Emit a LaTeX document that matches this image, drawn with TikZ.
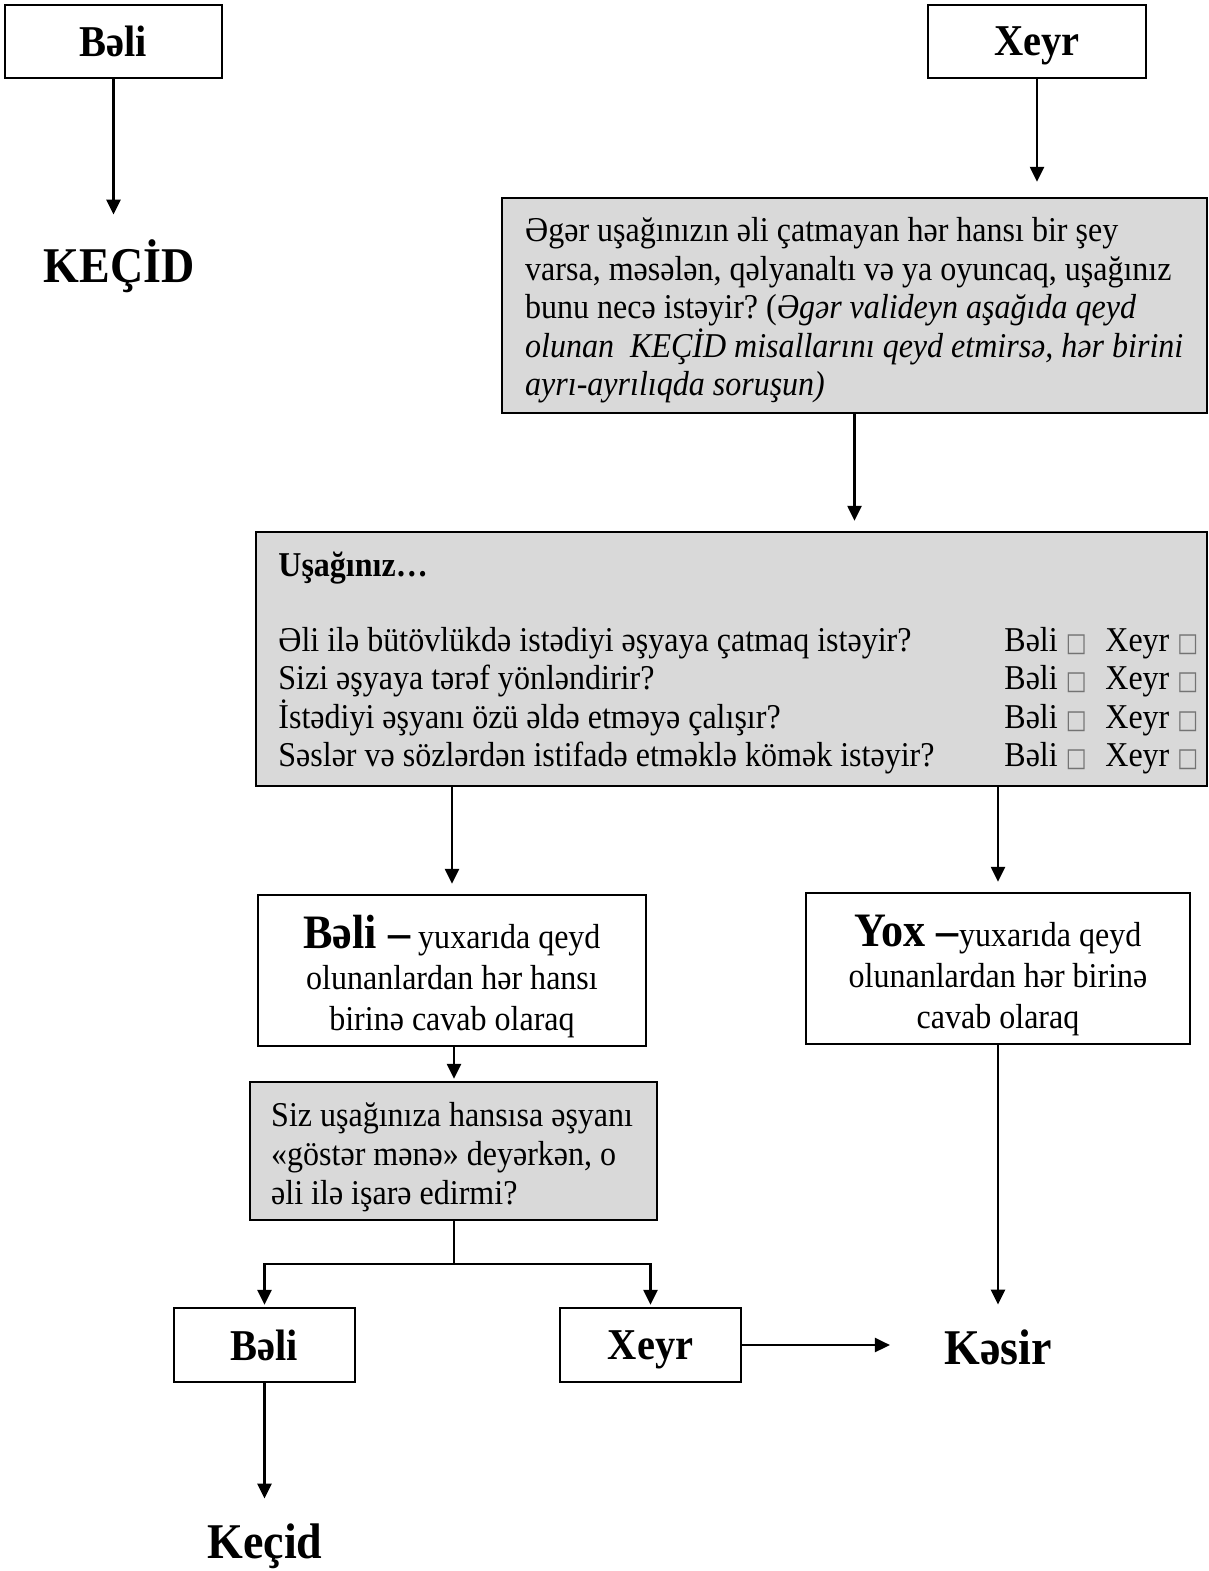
\documentclass[tikz,border=0pt]{standalone}
\usepackage{fontspec}
\setmainfont{Liberation Serif}[FakeStretch=0.92]
\newfontfamily\symfont{DejaVu Sans}[FakeStretch=0.85]
\usetikzlibrary{arrows.meta}

\newcommand{\chkbox}{\hspace{4pt}{\symfont\fontsize{13}{13}\selectfont\color{black!55}□}}

\begin{document}
\frenchspacing
\begin{tikzpicture}[x=0.5pt, y=-0.5pt,
  box/.style={draw, line width=1.2pt, inner sep=0pt},
  qbox/.style={box, fill=qgray},
  arr/.style={line width=1.2pt, -{Triangle[length=7.5pt,width=7pt]}},
  big/.style={font=\fontsize{22}{26}\selectfont\bfseries, text depth=0pt},
  label/.style={font=\fontsize{25}{30}\selectfont\bfseries, inner sep=0pt, text height=16.5pt, text depth=0pt, anchor=base},
  body/.style={font=\fontsize{17.4}{19.25}\selectfont}]

  % Colors
  \definecolor{qgray}{HTML}{D9D9D9}

  \useasboundingbox (0,0) rectangle (1209,1571);

  % Top row: yes / no
  \node[box, big, minimum width=108.5pt, minimum height=36.5pt] (beli1) at (113.5,41.5) {Bəli};
  \node[box, big, minimum width=109pt, minimum height=36.5pt] (xeyr1) at (1037,41.5) {Xeyr};
  \node[label] (kecid1) at (119,282) {KEÇİD};

  % First question
  \node[qbox, minimum width=352.5pt, minimum height=107.5pt] (q1) at (854.5,305.5) {};
  \node[body, align=left, anchor=west, inner sep=0pt] (q1txt) at ([xshift=12pt, yshift=-2.5pt]q1.west)
    {Əgər uşağınızın əli çatmayan hər hansı bir şey\\
     varsa, məsələn, qəlyanaltı və ya oyuncaq, uşağınız\\
     bunu necə istəyir? (\textit{Əgər valideyn aşağıda qeyd}\\
     \textit{olunan\ \ KEÇİD misallarını qeyd etmirsə, hər birini}\\
     \textit{ayrı-ayrılıqda soruşun)}};

  % Checklist
  \node[qbox, minimum width=475.5pt, minimum height=127pt] (q2) at (731.5,659) {};
  \node[body, font=\fontsize{17.4}{19.25}\selectfont\bfseries, anchor=base west, inner sep=0pt] (q2head) at (278,576) {Uşağınız…};
  \foreach \txt [count=\i] in {Əli ilə bütövlükdə istədiyi əşyaya çatmaq istəyir?,
      Sizi əşyaya tərəf yönləndirir?,
      İstədiyi əşyanı özü əldə etməyə çalışır?,
      Səslər və sözlərdən istifadə etməklə kömək istəyir?} {
    \pgfmathsetmacro{\ry}{651+38.5*(\i-1)}
    \node[body, anchor=base west, inner sep=0pt] (row\i) at (278,\ry) {\txt};
    \node[body, anchor=base west, inner sep=0pt] (yes\i) at (1004,\ry) {Bəli\chkbox};
    \node[body, anchor=base west, inner sep=0pt] (no\i) at (1105,\ry) {Xeyr\chkbox};
  }

  % Answers to checklist
  \node[box, font=\fontsize{17.4}{20.5}\selectfont, minimum width=194pt, minimum height=75.5pt, align=center] (beli2) at (452,970.5)
    {\rule{0pt}{23pt}{\fontsize{24}{24}\selectfont\bfseries Bəli –} yuxarıda qeyd\\olunanlardan hər hansı\\birinə cavab olaraq};
  \node[box, font=\fontsize{17.4}{20.5}\selectfont, minimum width=192pt, minimum height=75.5pt, align=center] (yox) at (998,968.5)
    {\rule{0pt}{23pt}{\fontsize{24}{24}\selectfont\bfseries Yox –}yuxarıda qeyd\\olunanlardan hər birinə\\cavab olaraq};

  % Pointing question
  \node[qbox, minimum width=203.5pt, minimum height=69pt] (q3) at (453.5,1151) {};
  \node[font=\fontsize{17.4}{19.5}\selectfont, align=left, anchor=west, inner sep=0pt] (q3txt) at ([xshift=11pt, yshift=-3pt]q3.west)
    {Siz uşağınıza hansısa əşyanı\\«göstər mənə» deyərkən, o\\əli ilə işarə edirmi?};

  % Bottom row
  \coordinate (split) at (454,1264);
  \node[box, big, minimum width=90.5pt, minimum height=37pt] (beli3) at (264.5,1345) {Bəli};
  \node[box, big, minimum width=90.5pt, minimum height=37pt] (xeyr3) at (650.5,1345) {Xeyr};
  \node[label] (kesir) at (998,1364) {Kəsir};
  \node[label] (kecid2) at (265,1558) {Keçid};

  % Connectors
  \draw[arr, shorten >=17pt] (beli1.south) -- (beli1.south |- kecid1.north);
  \draw[arr, shorten >=7.5pt] (xeyr1.south) -- (xeyr1.south |- q1.north);
  \draw[arr, shorten >=5pt] (q1.south) -- (q1.south |- q2.north);
  \draw[arr, shorten >=5pt] (beli2.north |- q2.south) -- (beli2.north);
  \draw[arr, shorten >=5pt] (yox.north |- q2.south) -- (yox.north);
  \draw[arr, shorten >=1pt] (beli2.south -| split) -- (split |- q3.north);
  \draw[line width=1.2pt] (q3.south -| split) -- (split);
  \draw[arr, shorten >=1pt] (split) -| (beli3.north);
  \draw[arr, shorten >=1pt] (split) -| (xeyr3.north);
  \draw[arr, shorten >=27pt] (xeyr3.east) -- (kesir.west |- xeyr3.east);
  \draw[arr, shorten >=13pt] (yox.south -| kesir) -- (kesir.north);
  \draw[arr, shorten >=13pt] (beli3.south) -- (beli3.south |- kecid2.north);

\end{tikzpicture}
\end{document}
